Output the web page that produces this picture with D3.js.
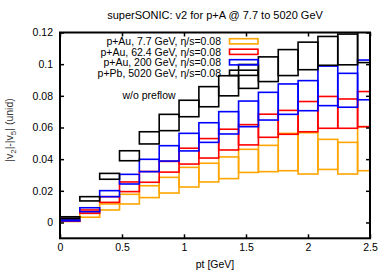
<!DOCTYPE html>
<html>
<head>
<meta charset="utf-8">
<script src="https://cdn.jsdelivr.net/npm/d3@7"></script>
<style>
  html, body { margin: 0; padding: 0; background: #fff; }
  svg { display: block; font-family: "Liberation Sans", Arial, sans-serif; }
</style>
</head>
<body>
<svg id="chart" width="390" height="273"></svg>
<script>
// ---- data ----
const title = "superSONIC: v2 for p+A @ 7.7 to 5020 GeV";
const binLo = [0, 0.16, 0.32, 0.48, 0.64, 0.80, 0.96, 1.12, 1.28, 1.44, 1.60, 1.76, 1.92, 2.08, 2.24, 2.40];
const binWidth = 0.16;

const seriesNames = ["p+Au, 7.7 GeV, \u03b7/s=0.08", "p+Au, 62.4 GeV, \u03b7/s=0.08", "p+Au, 200 GeV, \u03b7/s=0.08", "p+Pb, 5020 GeV, \u03b7/s=0.08"];
const seriesColors = ["#ffa500", "#ff0000", "#0000ff", "#000000"];

const au7Lo  = [0.0006, 0.0033, 0.0079, 0.0117, 0.0157, 0.0186, 0.0224, 0.0256, 0.0277, 0.0316, 0.0321, 0.0327, 0.0306, 0.0335, 0.0306, 0.0327];
const au7Hi  = [0.0012, 0.0058, 0.0117, 0.0178, 0.0232, 0.0285, 0.0348, 0.0374, 0.0414, 0.0462, 0.0487, 0.0563, 0.0567, 0.0525, 0.0506, 0.0605];
const au62Lo = [0.0008, 0.0058, 0.0127, 0.0195, 0.0254, 0.0318, 0.0369, 0.0407, 0.0458, 0.0490, 0.0538, 0.0557, 0.0573, 0.0595, 0.0595, 0.0605];
const au62Hi = [0.0014, 0.0079, 0.0163, 0.0256, 0.0322, 0.0386, 0.0469, 0.0530, 0.0589, 0.0618, 0.0684, 0.0708, 0.0764, 0.0796, 0.0780, 0.0827];
const au200Lo = [0.0010, 0.0068, 0.0163, 0.0243, 0.0321, 0.0388, 0.0452, 0.0506, 0.0559, 0.0605, 0.0647, 0.0683, 0.0706, 0.0738, 0.0728, 0.0775];
const au200Hi = [0.0016, 0.0093, 0.0201, 0.0304, 0.0399, 0.0485, 0.0563, 0.0630, 0.0700, 0.0767, 0.0822, 0.0875, 0.0896, 0.0988, 0.0942, 0.1026];
const pb5020Lo = [0.0025, 0.0136, 0.0273, 0.0390, 0.0496, 0.0580, 0.0668, 0.0731, 0.0800, 0.0847, 0.0890, 0.0928, 0.0965, 0.0993, 0.0996, 0.1010];
const pb5020Hi = [0.0036, 0.0163, 0.0310, 0.0453, 0.0573, 0.0683, 0.0772, 0.0858, 0.0927, 0.0998, 0.1046, 0.1092, 0.1139, 0.1175, 0.1190, 0.1300];

const xTicks = [0, 0.5, 1, 1.5, 2, 2.5];
const xTickLabels = ["0", "0.5", "1", "1.5", "2", "2.5"];
const yTicks = [0, 0.02, 0.04, 0.06, 0.08, 0.1, 0.12];
const yTickLabels = ["0", "0.02", "0.04", "0.06", "0.08", "0.1", "0.12"];
const xDomain = [0, 2.5];
const yDomain = [-0.01, 0.12];

// ---- layout ----
const svg = d3.select("#chart");
const L = 60, R = 370, T = 32.5, B = 238.3;
const x = d3.scaleLinear().domain(xDomain).range([L, R]);
const y = d3.scaleLinear().domain(yDomain).range([B, T]);

svg.append("defs").append("clipPath").attr("id", "clip")
  .append("rect").attr("x", L).attr("y", T).attr("width", R - L).attr("height", B - T);

// title
svg.append("text").attr("x", (L + R) / 2).attr("y", 19).attr("text-anchor", "middle")
  .attr("font-size", 11).text(title);

// boxes
const series = [
  { lo: au7Lo, hi: au7Hi },
  { lo: au62Lo, hi: au62Hi },
  { lo: au200Lo, hi: au200Hi },
  { lo: pb5020Lo, hi: pb5020Hi }
];
const gData = svg.append("g").attr("clip-path", "url(#clip)");
series.forEach((s, si) => {
  gData.append("g").selectAll("rect").data(binLo).join("rect")
    .attr("x", (d) => x(d))
    .attr("width", (d) => x(d + binWidth) - x(d))
    .attr("y", (d, i) => y(s.hi[i]))
    .attr("height", (d, i) => Math.max(0.5, y(s.lo[i]) - y(s.hi[i])))
    .attr("fill", "none")
    .attr("stroke", seriesColors[si])
    .attr("stroke-width", 1.6);
});

// axes with inward ticks
function styleAxis(g) {
  g.select(".domain").remove();
  g.selectAll(".tick line").attr("stroke", "#000").attr("stroke-width", 1.5);
  g.selectAll(".tick text").attr("fill", "#000").attr("font-size", 10.5)
    .attr("font-family", "Liberation Sans, Arial, sans-serif");
}
svg.append("g").attr("transform", `translate(${L},0)`)
  .call(d3.axisLeft(y).tickValues(yTicks).tickFormat((d, i) => yTickLabels[i]).tickSizeInner(-4).tickSizeOuter(0).tickPadding(7))
  .call(styleAxis);
svg.append("g").attr("transform", `translate(${R},0)`)
  .call(d3.axisRight(y).tickValues(yTicks).tickFormat("").tickSizeInner(-4).tickSizeOuter(0))
  .call(styleAxis);
svg.append("g").attr("transform", `translate(0,${B})`)
  .call(d3.axisBottom(x).tickValues(xTicks).tickFormat((d, i) => xTickLabels[i]).tickSizeInner(-4).tickSizeOuter(0).tickPadding(5))
  .call(styleAxis);
svg.append("g").attr("transform", `translate(0,${T})`)
  .call(d3.axisTop(x).tickValues(xTicks).tickFormat("").tickSizeInner(-4).tickSizeOuter(0))
  .call(styleAxis);

// frame
svg.append("rect").attr("x", L).attr("y", T).attr("width", R - L).attr("height", B - T)
  .attr("fill", "none").attr("stroke", "#000").attr("stroke-width", 2);

// legend
const legend = svg.append("g");
seriesNames.forEach((name, i) => {
  const cy = 41.3 + i * 10.5;
  legend.append("text").attr("x", 221).attr("y", cy + 3.7).attr("text-anchor", "end")
    .attr("font-size", 10.5).text(name);
  legend.append("rect").attr("x", 229.5).attr("y", cy - 2.6).attr("width", 28.5).attr("height", 5.2)
    .attr("fill", "none").attr("stroke", seriesColors[i]).attr("stroke-width", 1.6);
});

// annotation
svg.append("text").attr("x", 122.5).attr("y", 99).attr("font-size", 10.5).text("w/o preflow");

// axis labels
svg.append("text").attr("x", (L + R) / 2).attr("y", 268).attr("text-anchor", "middle")
  .attr("font-size", 10.5).text("pt [GeV]");
const yl = svg.append("text").attr("transform", `translate(13,130) rotate(-90)`)
  .attr("text-anchor", "middle").attr("font-size", 10.5).attr("fill", "#333");
yl.append("tspan").text("|v");
yl.append("tspan").attr("font-size", 8).attr("dy", 3).text("2");
yl.append("tspan").attr("dy", -3).text("|-|v");
yl.append("tspan").attr("font-size", 8).attr("dy", 3).text("5");
yl.append("tspan").attr("dy", -3).text("| (unid)");
</script>
</body>
</html>
